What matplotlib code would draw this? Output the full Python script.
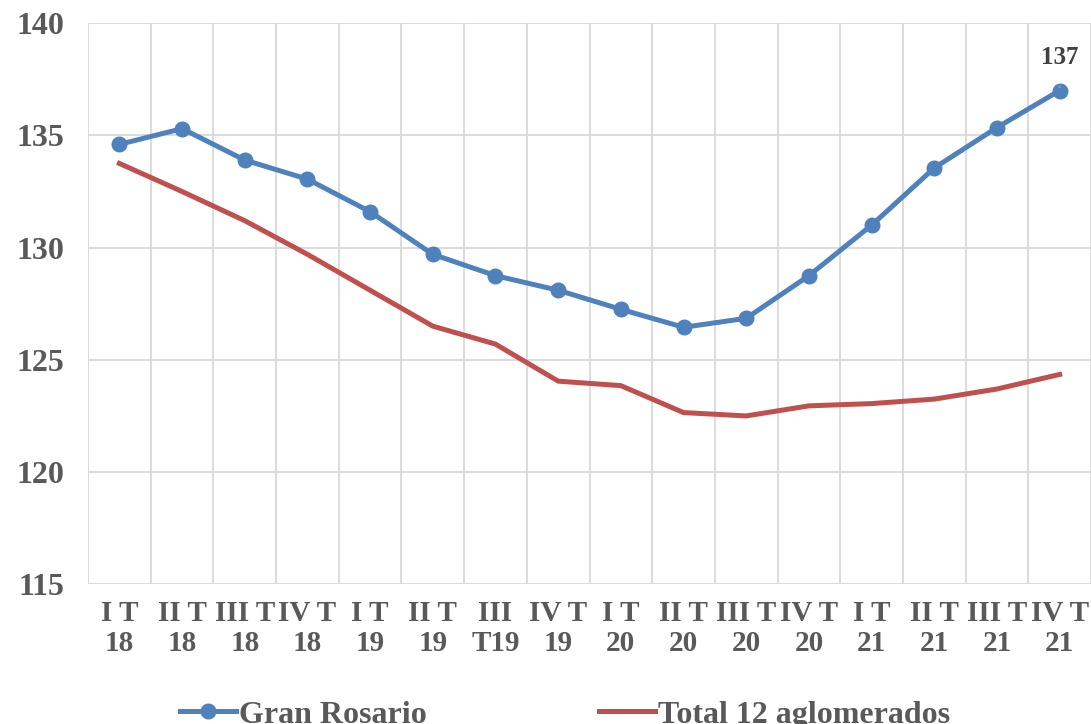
import numpy as np
import matplotlib.pyplot as plt

# data
categories = ["I T\n18", "II T\n18", "III T\n18", "IV T\n18",
              "I T\n19", "II T\n19", "III\nT19", "IV T\n19",
              "I T\n20", "II T\n20", "III T\n20", "IV T\n20",
              "I T\n21", "II T\n21", "III T\n21", "IV T\n21"]
gran_rosario = [134.6, 135.3, 133.9, 133.05, 131.6, 129.7, 128.75, 128.1,
                127.25, 126.45, 126.85, 128.75, 131.0, 133.55, 135.35, 137.0]
total_12 = [133.75, 132.5, 131.2, 129.7, 128.1, 126.5, 125.7, 124.05,
            123.85, 122.65, 122.5, 122.95, 123.05, 123.25, 123.7, 124.35]
y_ticks = [115, 120, 125, 130, 135, 140]

blue = '#4F81BD'
red = '#C0504D'
txt = '#595959'

plt.rcParams['font.family'] = ['Liberation Serif', 'DejaVu Serif']
plt.rcParams['font.weight'] = 'bold'

fig = plt.figure(figsize=(10.91, 7.24), dpi=100)
ax = fig.add_axes([0.0807, 0.193, 0.9193, 0.775])

x = np.arange(len(categories))
ax.plot(x, gran_rosario, color=blue, lw=3.6, marker='o', ms=10.5,
        label='Gran Rosario', zorder=3)
ax.plot(x, total_12, color=red, lw=3.6, label='Total 12 aglomerados', zorder=2)

# label on the last point
ax.annotate(f"{gran_rosario[-1]:.0f}", xy=(x[-1], gran_rosario[-1] + 0.15),
            xytext=(x[-1], gran_rosario[-1] + 1.45),
            ha='center', va='center', fontsize=18, fontweight='bold', color='#404040',
            arrowprops=dict(arrowstyle='-', color='#a6a6a6', lw=1.2,
                            shrinkA=10, shrinkB=0))

ax.set_ylim(115, 140)
ax.set_yticks(y_ticks)
ax.set_yticklabels([str(v) for v in y_ticks], fontsize=23, fontweight='bold', color=txt)
ax.set_xlim(-0.5, len(categories) - 0.5)
ax.set_xticks(x)
ax.set_xticklabels(categories, linespacing=1.15, fontsize=21, fontweight='bold', color=txt)
ax.set_xticks(np.arange(-0.5, len(categories), 1), minor=True)

ax.grid(axis='y', which='major', color='#d9d9d9', lw=1.3)
ax.grid(axis='x', which='minor', color='#d9d9d9', lw=1.3)
ax.grid(axis='x', which='major', visible=False)
ax.tick_params(axis='both', which='both', length=0)
ax.tick_params(axis='y', pad=17)
ax.tick_params(axis='x', pad=11)
for s in ax.spines.values():
    s.set_visible(False)
ax.set_axisbelow(True)

leg = fig.legend(loc='center', bbox_to_anchor=(0.518, 0.0125), ncol=2, frameon=False,
                 prop={'size': 23, 'weight': 'bold'}, handlelength=1.75,
                 handletextpad=0.1, columnspacing=5.4)
for t in leg.get_texts():
    t.set_color(txt)

fig.savefig('out.png', dpi=100)
